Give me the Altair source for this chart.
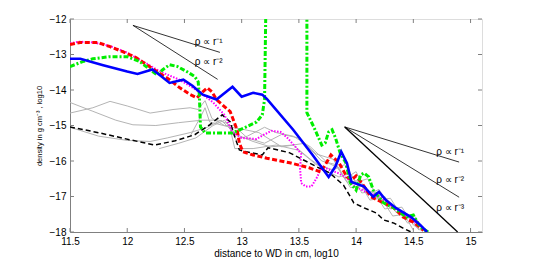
import altair as alt
import pandas as pd

# ---------------- data ----------------
x_ticks = [11.5, 12, 12.5, 13, 13.5, 14, 14.5, 15]
y_ticks = [-18, -17, -16, -15, -14, -13, -12]

blue_x = [11.50, 11.59, 11.79, 12.00, 12.09, 12.22, 12.30, 12.37, 12.49, 12.57, 12.66, 12.78, 12.92, 13.00,
          13.10, 13.18, 13.22, 13.45, 13.62, 13.76, 13.82, 13.87, 13.92, 13.96, 14.07, 14.15, 14.20, 14.26,
          14.35, 14.48, 14.56, 14.62]
blue_y = [-13.12, -13.12, -13.30, -13.48, -13.55, -13.42, -13.62, -13.80, -13.71, -13.88, -14.13, -14.27, -13.91,
          -14.19, -14.08, -14.13, -14.25, -15.12, -15.83, -16.45, -16.15, -15.74, -16.06, -16.59, -16.72, -17.01,
          -16.87, -17.10, -17.33, -17.58, -17.80, -18.00]

red_x = [11.50, 11.59, 11.74, 11.85, 11.96, 12.08, 12.17, 12.26, 12.37, 12.46, 12.55, 12.61, 12.66, 12.70, 12.74,
         12.78, 12.90, 12.96, 12.98, 13.01, 13.10, 13.22, 13.42, 13.59, 13.69, 13.73, 13.78, 13.85, 13.92, 13.96,
         14.00, 14.05, 14.13, 14.24, 14.33, 14.41, 14.50, 14.59]
red_y = [-12.72, -12.66, -12.66, -12.78, -12.92, -13.09, -13.29, -13.48, -13.71, -13.94, -14.13, -14.22, -14.05,
         -13.94, -14.05, -14.27, -14.61, -15.12, -15.49, -15.74, -15.83, -15.92, -16.05, -16.19, -16.31, -16.11,
         -15.83, -16.05, -16.45, -16.53, -16.42, -16.62, -17.01, -17.18, -17.32, -17.58, -17.72, -17.95]

mag_x = [11.50, 11.58, 11.70, 11.85, 12.00, 12.15, 12.30, 12.45, 12.58, 12.65, 12.75, 12.85, 12.92, 13.00, 13.13,
         13.20, 13.26, 13.34, 13.40, 13.47, 13.52, 13.51, 13.52, 13.56, 13.61, 13.66, 13.70, 13.77, 13.85, 13.92,
         13.97, 14.09, 14.21, 14.35, 14.47, 14.55]
mag_y = [-12.68, -12.64, -12.66, -12.76, -12.95, -13.22, -13.50, -13.70, -13.95, -14.10, -14.35, -14.70, -15.20,
         -15.35, -15.38, -15.25, -15.15, -15.18, -15.35, -15.60, -15.80, -16.20, -16.62, -16.72, -16.72, -16.45,
         -16.15, -16.25, -16.35, -16.48, -16.68, -16.88, -17.01, -17.38, -17.61, -17.82]

green_x = [11.50, 11.61, 11.70, 11.85, 12.00, 12.11, 12.20, 12.26, 12.31, 12.37, 12.44, 12.52, 12.59, 12.62, 12.63,
           12.64, 12.68, 12.78, 12.92, 13.04, 13.13, 13.18, 13.20, 13.21, 13.21, 13.57, 13.57, 13.57, 13.63,
           13.70, 13.73, 13.76, 13.79, 13.82, 13.86, 13.91, 13.95, 14.00, 14.04, 14.07, 14.11, 14.15, 14.24,
           14.33, 14.44, 14.50, 14.56, 14.63]
green_y = [-13.34, -13.20, -13.12, -13.06, -13.06, -13.20, -13.43, -13.57, -13.43, -13.29, -13.34, -13.48, -13.62,
           -13.77, -14.13, -15.04, -15.21, -15.21, -15.21, -15.04, -14.90, -14.70, -14.27, -12.00, -11.00, -11.00,
           -12.00, -14.64, -15.04, -15.55, -15.49, -15.18, -15.12, -15.35, -15.77, -16.05, -16.62, -16.82, -16.39,
           -16.34, -16.45, -16.82, -17.18, -17.32, -17.58, -17.52, -17.86, -18.00]

black_x = [11.50, 11.76, 12.02, 12.24, 12.42, 12.59, 12.72, 12.83, 12.90, 12.94, 12.98, 13.04, 13.18, 13.23, 13.28,
           13.42, 13.66, 13.77, 13.89, 13.95, 13.98, 14.07, 14.18, 14.24, 14.33, 14.41, 14.48]
black_y = [-15.04, -15.21, -15.40, -15.55, -15.43, -15.26, -14.98, -14.70, -14.90, -15.32, -15.69, -15.74, -15.83,
           -15.63, -15.66, -15.77, -16.17, -16.34, -16.68, -17.01, -17.18, -17.32, -17.47, -17.66, -17.75, -17.89,
           -18.00]

gray1_x = [11.50, 11.70, 11.90, 12.05, 12.25, 12.45, 12.65, 12.80, 12.88, 12.95, 13.05, 13.20, 13.30, 13.45, 13.60,
           13.75, 13.85, 13.95, 14.05, 14.15, 14.25, 14.35, 14.45, 14.55]
gray1_y = [-14.35, -14.60, -14.85, -14.98, -15.00, -14.92, -14.85, -14.85, -14.95, -15.40, -15.30, -15.05, -15.20,
           -15.30, -15.60, -16.05, -16.20, -16.75, -16.70, -17.05, -17.00, -17.45, -17.50, -17.95]
gray2_x = [11.50, 11.70, 11.85, 12.00, 12.20, 12.40, 12.55, 12.62, 12.68, 12.74, 12.85, 12.93, 13.05, 13.20, 13.35,
           13.50, 13.65, 13.80, 13.90, 14.00, 14.10, 14.20, 14.30, 14.40, 14.50, 14.58]
gray2_y = [-14.65, -14.50, -14.32, -14.45, -14.65, -14.55, -14.50, -14.55, -14.30, -14.80, -15.00, -15.00, -15.35,
           -15.50, -15.25, -15.35, -15.80, -15.95, -16.50, -16.30, -16.95, -16.80, -17.35, -17.30, -17.80, -17.98]
gray3_x = [11.50, 11.75, 12.00, 12.20, 12.35, 12.55, 12.70, 12.82, 12.90, 12.94, 13.10, 13.30, 13.50, 13.65, 13.80,
           13.90, 14.00, 14.10, 14.20, 14.30, 14.40, 14.50, 14.60]
gray3_y = [-15.05, -15.30, -15.42, -15.45, -15.35, -15.20, -15.05, -14.85, -15.10, -15.65, -15.65, -15.55, -15.70,
           -16.10, -16.25, -16.10, -16.60, -16.50, -17.10, -17.05, -17.55, -17.50, -18.00]
gray4_x = [12.28, 12.45, 12.60, 12.75, 12.85, 12.95, 13.10, 13.25, 13.45, 13.60, 13.75, 13.85, 13.95, 14.05, 14.15,
           14.25, 14.35, 14.45, 14.52, 14.60]
gray4_y = [-15.65, -15.50, -15.35, -15.00, -14.85, -15.25, -15.45, -15.60, -15.55, -15.95, -16.30, -16.45, -16.35,
           -16.90, -16.85, -17.35, -17.30, -17.75, -17.70, -17.98]
gray5_x = [12.55, 12.65, 12.68, 12.72, 12.90, 13.00, 13.15, 13.35, 13.55, 13.70, 13.82, 13.92, 14.02, 14.12, 14.22,
           14.32, 14.42, 14.50]
gray5_y = [-15.30, -14.70, -14.50, -14.90, -15.05, -15.10, -15.20, -15.60, -15.50, -16.00, -16.10, -16.60, -16.55,
           -17.10, -17.05, -17.55, -17.50, -17.95]

# power-law guide lines: start and end points
guide_x1 = [12.05, 12.05, 13.90, 13.90]
guide_y1 = [-12.18, -12.18, -15.04, -15.04]
guide_x2 = [12.81, 12.79, 14.90, 14.90]
guide_y2 = [-12.94, -13.70, -16.03, -17.02]
steep_x = [13.90, 14.887]
steep_y = [-15.04, -18.00]

label_text = ["ρ ∝ r⁻¹", "ρ ∝ r⁻²", "ρ ∝ r⁻¹", "ρ ∝ r⁻²", "ρ ∝ r⁻³"]
label_x = [12.59, 12.59, 14.70, 14.70, 14.70]
label_y = [-12.64, -13.20, -15.74, -16.53, -17.32]

# ---------------- chart ----------------
W, H = 412, 213
FONT = "Liberation Sans"
AX = "#808080"
xs = alt.Scale(domain=[11.5, 15.1], nice=False, zero=False)
ys = alt.Scale(domain=[-18, -12], nice=False, zero=False)


def df(x, y, name):
    return pd.DataFrame({"x": x, "y": y, "i": list(range(len(x))), "s": name})


gray_df = pd.concat([df(gray1_x, gray1_y, "g1"), df(gray2_x, gray2_y, "g2"), df(gray3_x, gray3_y, "g3"),
                     df(gray4_x, gray4_y, "g4"), df(gray5_x, gray5_y, "g5")])

xaxis = alt.Axis(values=x_ticks, format="~g", tickSize=0, labelPadding=4, grid=False, domainColor=AX,
                 labelFontSize=10, labelFont=FONT, labelColor="black", labelFlush=False, labelOverlap=False,
                 title="distance to WD in cm, log10", titleFont=FONT, titleFontSize=10,
                 titleFontWeight="normal", titleColor="black", titlePadding=2)
yaxis = alt.Axis(values=y_ticks, format="~g", tickSize=0, labelPadding=4, grid=False, domainColor=AX,
                 labelFontSize=10, labelFont=FONT, labelColor="black", labelFlush=False, labelOverlap=False,
                 title="density in g cm⁻³ , log10", titleFont=FONT, titleFontSize=7.5,
                 titleFontWeight="normal", titleColor="black", titlePadding=6)


def X(f):
    return alt.X(f, scale=xs, axis=xaxis)


def Y(f):
    return alt.Y(f, scale=ys, axis=yaxis)


gray = alt.Chart(gray_df).mark_line(color="#b4b4b4", strokeWidth=1, clip=True).encode(
    x=X("x:Q"), y=Y("y:Q"), detail="s:N", order="i:Q")


def series(x, y, name, **kw):
    return alt.Chart(df(x, y, name)).mark_line(clip=True, **kw).encode(
        x=X("x:Q"), y=Y("y:Q"), order="i:Q")


black = series(black_x, black_y, "black", color="black", strokeWidth=1.5, strokeDash=[5, 3])
mag = series(mag_x, mag_y, "mag", color="#ff00ff", strokeWidth=2, strokeDash=[1.5, 1.5])
red = series(red_x, red_y, "red", color="#ff0000", strokeWidth=3, strokeDash=[5, 2.5])
green = series(green_x, green_y, "green", color="#00ee00", strokeWidth=3, strokeDash=[5, 2, 2, 2])
blue = series(blue_x, blue_y, "blue", color="#0000ff", strokeWidth=2.6)

guides = alt.Chart(pd.DataFrame({"x": guide_x1, "y": guide_y1, "x2": guide_x2, "y2": guide_y2})).mark_rule(
    color="black", strokeWidth=0.8).encode(x=X("x:Q"), y=Y("y:Q"), x2="x2:Q", y2="y2:Q")
steep = alt.Chart(pd.DataFrame({"x": [steep_x[0]], "y": [steep_y[0]], "x2": [steep_x[1]], "y2": [steep_y[1]]})
                  ).mark_rule(color="black", strokeWidth=1.3).encode(x=X("x:Q"), y=Y("y:Q"), x2="x2:Q", y2="y2:Q")

labels = alt.Chart(pd.DataFrame({"t": label_text, "x": label_x, "y": label_y})).mark_text(
    align="left", baseline="middle", font=FONT, fontSize=10, color="black").encode(
    x=X("x:Q"), y=Y("y:Q"), text="t:N")

# inward box ticks
xt = pd.DataFrame({"x": x_ticks})
yt = pd.DataFrame({"y": y_ticks})
tb = alt.Chart(xt).mark_rule(color=AX).encode(x=X("x:Q"), y=alt.value(H), y2=alt.value(H - 4))
tt = alt.Chart(xt).mark_rule(color=AX).encode(x=X("x:Q"), y=alt.value(0), y2=alt.value(4))
tl = alt.Chart(yt).mark_rule(color=AX).encode(y=Y("y:Q"), x=alt.value(0), x2=alt.value(4))
tr = alt.Chart(yt).mark_rule(color=AX).encode(y=Y("y:Q"), x=alt.value(W), x2=alt.value(W - 4))

chart = alt.layer(gray, black, mag, red, green, blue, guides, steep, labels, tb, tt, tl, tr).properties(
    width=W, height=H, autosize=alt.AutoSizeParams(type="none"),
    padding={"left": 62, "top": 11, "right": 44, "bottom": 28}
).configure_view(stroke=AX, strokeWidth=1).configure(background="white")

chart.save("out.html", embed_options={"renderer": "svg", "actions": False})
